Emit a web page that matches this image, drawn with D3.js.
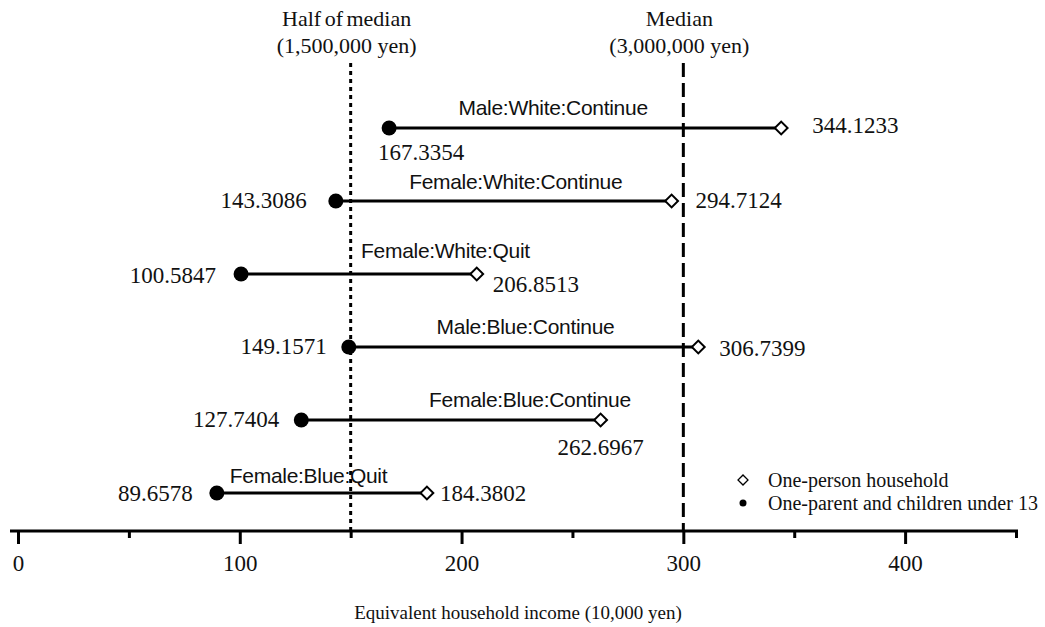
<!DOCTYPE html>
<html>
<head>
<meta charset="utf-8">
<script src="https://cdn.jsdelivr.net/npm/d3@7"></script>
<style>
  body { margin: 0; background: #fff; }
  .num { font-family: "Liberation Serif", "Times New Roman", serif; font-size: 23px; fill: #111; }
  .cat { font-family: "Liberation Sans", Arial, sans-serif; font-size: 21px; fill: #111; letter-spacing: -0.3px; }
  .note { font-family: "Liberation Serif", "Times New Roman", serif; font-size: 22px; fill: #111; }
  .legend { font-family: "Liberation Serif", "Times New Roman", serif; font-size: 20px; fill: #111; }
  .axis text { font-family: "Liberation Serif", "Times New Roman", serif; font-size: 23px; fill: #111; }
</style>
</head>
<body>
<div id="chart"></div>
<script>
// data, top row first
var groups = ["Male:White:Continue", "Female:White:Continue", "Female:White:Quit",
              "Male:Blue:Continue", "Female:Blue:Continue", "Female:Blue:Quit"];
var oneParent = [167.3354, 143.3086, 100.5847, 149.1571, 127.7404, 89.6578];
var onePerson = [344.1233, 294.7124, 206.8513, 306.7399, 262.6967, 184.3802];
var majorTicks = [0, 100, 200, 300, 400];
var minorTicks = [50, 150, 250, 350, 450];
var refLines = [
  {value: 150, title: "Half of median", sub: "(1,500,000 yen)", dash: "4,4"},
  {value: 300, title: "Median", sub: "(3,000,000 yen)", dash: "14,6"}
];

// label placement per row (layout only)
var catPos = [
  {anchor: "middle", dx: -32, dy: -13, at: "mid"},
  {anchor: "middle", dx: 12, dy: -12, at: "mid"},
  {anchor: "start", dx: 120, dy: -16, at: "min"},
  {anchor: "middle", dx: 2, dy: -13, at: "mid"},
  {anchor: "middle", dx: 79, dy: -13, at: "mid"},
  {anchor: "start", dx: 13, dy: -10, at: "min"}
];
var minPos = [
  {anchor: "start", dx: -11, dy: 32},
  {anchor: "end", dx: -29, dy: 7},
  {anchor: "end", dx: -25, dy: 9},
  {anchor: "end", dx: -22, dy: 7},
  {anchor: "end", dx: -22, dy: 7},
  {anchor: "end", dx: -24, dy: 8}
];
var maxPos = [
  {anchor: "start", dx: 31, dy: 5},
  {anchor: "start", dx: 24, dy: 7},
  {anchor: "start", dx: 16, dy: 18},
  {anchor: "start", dx: 21, dy: 9},
  {anchor: "middle", dx: 0, dy: 35},
  {anchor: "start", dx: 13, dy: 8}
];

var width = 1045, height = 627;
var svg = d3.select("#chart").append("svg")
  .attr("width", width)
  .attr("height", height);

var x = d3.scaleLinear().domain([0, 450]).range([18, 1016]);
var y = d3.scalePoint().domain(groups).range([128, 493]);
var axisY = 531;

// reference lines
refLines.forEach(function(r) {
  svg.append("line")
    .attr("x1", x(r.value)).attr("x2", x(r.value))
    .attr("y1", 63).attr("y2", axisY)
    .attr("stroke", "#000").attr("stroke-width", 3)
    .attr("stroke-dasharray", r.dash);
  svg.append("text").attr("class", "note")
    .attr("x", x(r.value) - 4).attr("y", 26)
    .attr("text-anchor", "middle")
    .style("word-spacing", "-2px")
    .text(r.title);
  svg.append("text").attr("class", "note")
    .attr("x", x(r.value) - 4).attr("y", 53)
    .attr("text-anchor", "middle")
    .text(r.sub);
});

// axis
svg.append("line")
  .attr("x1", 10).attr("x2", x(450) + 2)
  .attr("y1", axisY).attr("y2", axisY)
  .attr("stroke", "#000").attr("stroke-width", 3);

var gMajor = svg.append("g").attr("class", "axis")
  .attr("transform", "translate(0," + axisY + ")")
  .call(d3.axisBottom(x).tickValues(majorTicks).tickSize(13).tickSizeOuter(0).tickPadding(11));
gMajor.select(".domain").remove();
gMajor.selectAll("line").attr("stroke", "#000").attr("stroke-width", 3);

var gMinor = svg.append("g")
  .attr("transform", "translate(0," + axisY + ")")
  .call(d3.axisBottom(x).tickValues(minorTicks).tickSize(7).tickSizeOuter(0).tickFormat(""));
gMinor.select(".domain").remove();
gMinor.selectAll("line").attr("stroke", "#000").attr("stroke-width", 3);

svg.append("text").attr("class", "note")
  .attr("x", 518).attr("y", 619)
  .attr("text-anchor", "middle")
  .style("font-size", "19px")
  .text("Equivalent household income (10,000 yen)");

// segments
var rows = groups.map(function(g, i) {
  return {name: g, lo: oneParent[i], hi: onePerson[i], i: i};
});

svg.selectAll(".seg").data(rows).enter().append("line")
  .attr("class", "seg")
  .attr("x1", function(d) { return x(d.lo); })
  .attr("x2", function(d) { return x(d.hi); })
  .attr("y1", function(d) { return y(d.name); })
  .attr("y2", function(d) { return y(d.name); })
  .attr("stroke", "#000").attr("stroke-width", 3);

svg.selectAll(".dot").data(rows).enter().append("circle")
  .attr("class", "dot")
  .attr("cx", function(d) { return x(d.lo); })
  .attr("cy", function(d) { return y(d.name); })
  .attr("r", 7.5)
  .attr("fill", "#000");

var diamond = d3.symbol().type(d3.symbolSquare).size(82);
svg.selectAll(".dia").data(rows).enter().append("path")
  .attr("class", "dia")
  .attr("d", diamond)
  .attr("transform", function(d) { return "translate(" + x(d.hi) + "," + y(d.name) + ") rotate(45)"; })
  .attr("fill", "#fff").attr("stroke", "#000").attr("stroke-width", 2);

// value labels
svg.selectAll(".lo").data(rows).enter().append("text")
  .attr("class", "num")
  .attr("x", function(d) { return x(d.lo) + minPos[d.i].dx; })
  .attr("y", function(d) { return y(d.name) + minPos[d.i].dy; })
  .attr("text-anchor", function(d) { return minPos[d.i].anchor; })
  .text(function(d) { return d.lo.toFixed(4); });

svg.selectAll(".hi").data(rows).enter().append("text")
  .attr("class", "num")
  .attr("x", function(d) { return x(d.hi) + maxPos[d.i].dx; })
  .attr("y", function(d) { return y(d.name) + maxPos[d.i].dy; })
  .attr("text-anchor", function(d) { return maxPos[d.i].anchor; })
  .text(function(d) { return d.hi.toFixed(4); });

// group labels
svg.selectAll(".cat").data(rows).enter().append("text")
  .attr("class", "cat")
  .attr("x", function(d) {
    var p = catPos[d.i];
    var base = p.at === "mid" ? (x(d.lo) + x(d.hi)) / 2 : x(d.lo);
    return base + p.dx;
  })
  .attr("y", function(d) { return y(d.name) + catPos[d.i].dy; })
  .attr("text-anchor", function(d) { return catPos[d.i].anchor; })
  .text(function(d) { return d.name; });

// legend
var legend = svg.append("g").attr("transform", "translate(743,480)");
legend.append("path")
  .attr("d", d3.symbol().type(d3.symbolSquare).size(50))
  .attr("transform", "rotate(45)")
  .attr("fill", "#fff").attr("stroke", "#000").attr("stroke-width", 1.3);
legend.append("text").attr("class", "legend")
  .attr("x", 25).attr("y", 7)
  .text("One-person household");
legend.append("circle")
  .attr("cx", 0).attr("cy", 23).attr("r", 3.5).attr("fill", "#000");
legend.append("text").attr("class", "legend")
  .attr("x", 25).attr("y", 30)
  .text("One-parent and children under 13");
</script>
</body>
</html>
